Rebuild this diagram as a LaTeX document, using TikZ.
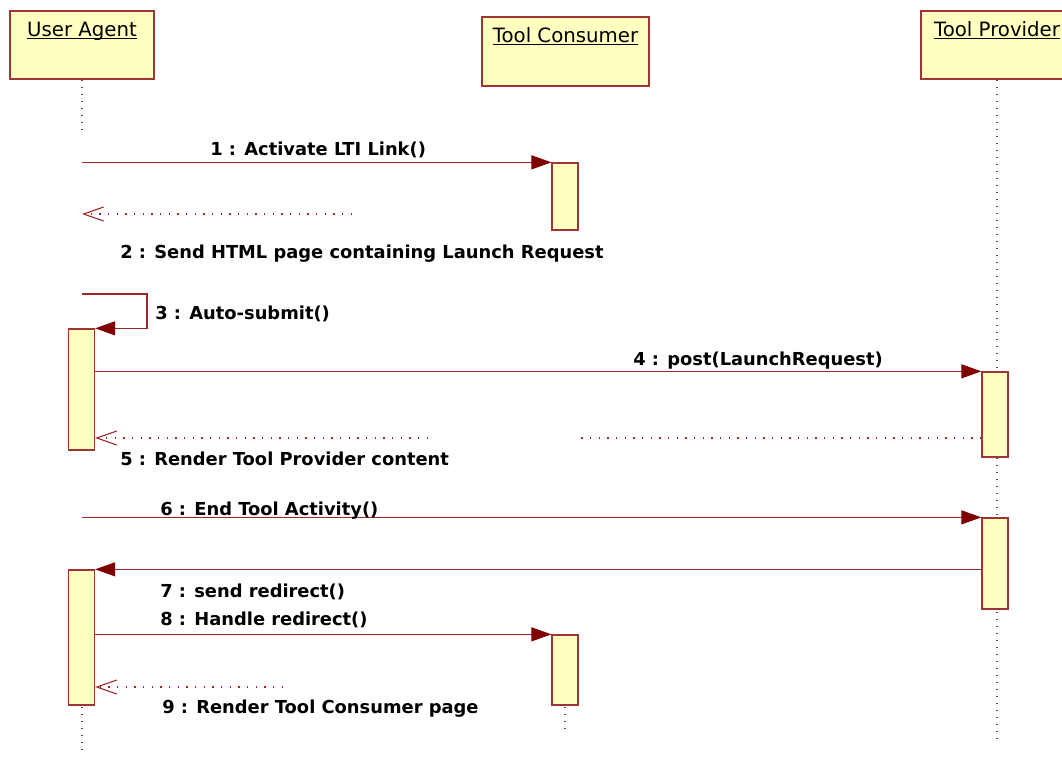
\documentclass[tikz,border=0pt]{standalone}
\usepackage{fontspec}
\setmainfont{DejaVu Sans}
\usetikzlibrary{arrows.meta}
\definecolor{boxred}{RGB}{160,52,52}
\definecolor{boxfill}{RGB}{255,255,192}
\definecolor{msgred}{RGB}{158,38,38}
\definecolor{headred}{RGB}{128,0,0}
\definecolor{lifegray}{RGB}{80,80,80}

\begin{document}
\begin{tikzpicture}[x=0.75pt,y=-0.75pt,
    actor/.style={draw=boxred,fill=boxfill,line width=1pt,inner sep=0,minimum height=51pt},
    title/.style={inner sep=0,anchor=base,font=\fontsize{14.8pt}{18pt}\selectfont},
    uline/.style={line width=0.9pt,black},
    actbar/.style={draw=boxred,fill=boxfill,line width=1pt,inner sep=0,minimum width=19.5pt},
    lifeline/.style={draw=lifegray,line width=0.9pt,dash pattern=on 0.9pt off 4.35pt},
    msg/.style={draw=msgred,line width=0.9pt,-{Triangle[length=15pt,width=10.5pt,color=headred]}},
    dots/.style={draw=msgred,line width=0.9pt,dash pattern=on 0.9pt off 5.6pt},
    reply/.style={dots,-{Straight Barb[length=15pt,width=10.5pt,line width=0.8pt]}},
    msglabel/.style={inner sep=0,anchor=base west,font=\fontsize{13.4pt}{16pt}\selectfont\bfseries}]

\useasboundingbox (0,0) rectangle (1062,758);
\clip (0,0) rectangle (1062,758);

% objects
\node[actor,minimum width=108pt] (ua) at (82,45) {};
\node[actor,minimum width=125.25pt,minimum height=51.75pt] (tc) at (565.5,51.5) {};
\node[actor,minimum width=114pt] (tp) at (997,45) {};
\node[title,yshift=-19.5pt] (uat) at (ua.north) {User Agent};
\node[title,yshift=-19.5pt] (tct) at (tc.north) {Tool Consumer};
\node[title,yshift=-19.5pt] (tpt) at (tp.north) {Tool Provider};
\foreach \t in {uat,tct,tpt}
    \draw[uline] ([yshift=-1.6pt]\t.base west) -- ([yshift=-1.6pt]\t.base east);

% lifelines
\coordinate (ua end a) at (82,130);
\coordinate (ua end b) at (82,755);
\coordinate (tc end) at (565,733);
\coordinate (tp end) at (997,740);
\draw[lifeline] (ua.south) -- (ua end a);
\draw[lifeline] (82,707) -- (ua end b);
\draw[lifeline] (565,707) -- (tc end);
\draw[lifeline] (tp.south) -- (tp end);

% activations
\node[actbar,minimum height=50.25pt] (tc1) at (565,196.5) {};
\node[actbar,minimum height=90.75pt] (ua1) at (81.5,389.5) {};
\node[actbar,minimum height=63.75pt] (tp1) at (995,414.5) {};
\node[actbar,minimum height=68.25pt] (tp2) at (995,563.5) {};
\node[actbar,minimum height=101.25pt] (ua2) at (81.5,637.5) {};
\node[actbar,minimum height=52.5pt] (tc2) at (565,670) {};

% messages
\draw[msg] (ua.south |- tc1.north) -- (tc1.north west);
\node[msglabel] (l1) at (210,155) {1 : Activate LTI Link()};

\coordinate (r2) at (352,214);
\draw[reply] (r2) -- (ua.south |- r2);
\node[msglabel] (l2) at (120,258) {2 : Send HTML page containing Launch Request};

\coordinate (s3) at (147,294);
\draw[msg] (ua.south |- s3) -- (s3) |- (ua1.north east);
\node[msglabel] (l3) at (155,319) {3 : Auto-submit()};

\draw[msg] (ua1.east |- tp1.north) -- (tp1.north west);
\node[msglabel] (l4) at (633,365) {4 : post(LaunchRequest)};

\coordinate (g5a) at (428,438);
\coordinate (g5b) at (580,438);
\draw[dots] (tp1.west |- g5b) -- (g5b);
\draw[reply] (g5a) -- (ua1.east |- g5a);
\node[msglabel] (l5) at (120,465) {5 : Render Tool Provider content};

\draw[msg] (ua.south |- tp2.north) -- (tp2.north west);
\node[msglabel] (l6) at (160,515) {6 : End Tool Activity()};

\draw[msg] (tp2.west |- ua2.north) -- (ua2.north east);
\node[msglabel] (l7) at (160,597) {7 : send redirect()};

\draw[msg] (ua2.east |- tc2.north) -- (tc2.north west);
\node[msglabel] (l8) at (160,625) {8 : Handle redirect()};

\coordinate (r9) at (283,687);
\draw[reply] (r9) -- (ua2.east |- r9);
\node[msglabel] (l9) at (162,713) {9 : Render Tool Consumer page};

\end{tikzpicture}
\end{document}
